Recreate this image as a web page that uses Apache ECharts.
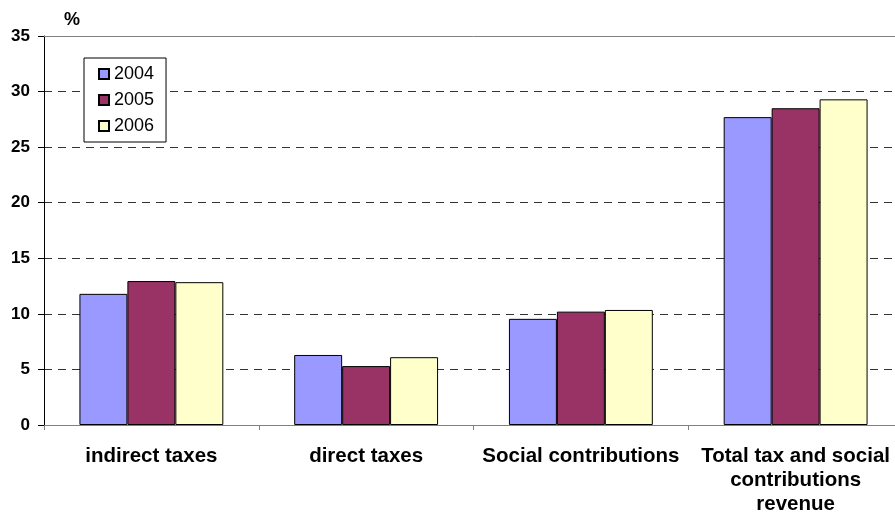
<!DOCTYPE html>
<html><head><meta charset="utf-8">
<script src="https://cdn.jsdelivr.net/npm/echarts@6/dist/echarts.min.js"></script>
<style>html,body{margin:0;padding:0;background:#fff;overflow:hidden;width:895px;height:516px}#c{width:903px;height:516px}</style>
</head><body><div id="c"></div>
<script>
var categories = ['indirect taxes', 'direct taxes', 'Social contributions', 'Total tax and social\ncontributions\nrevenue'];
var years = ['2004', '2005', '2006'];
var v2004 = [11.8, 6.3, 9.55, 27.7];
var v2005 = [12.95, 5.3, 10.2, 28.5];
var v2006 = [12.85, 6.1, 10.35, 29.3];
var yTicks = [0, 5, 10, 15, 20, 25, 30, 35];
var colors = ['#9999FF', '#993366', '#FFFFCC'];
var values = [v2004, v2005, v2006];

var chart = echarts.init(document.getElementById('c'));
var series = years.map(function (y, i) {
  var s = {
    name: y, type: 'bar', data: values[i],
    barGap: '0%', barCategoryGap: '33%',
    itemStyle: { color: colors[i], borderColor: '#000', borderWidth: 1 },
    emphasis: { disabled: true }, animation: false
  };
  if (i === 0) {
    s.markLine = { silent: true, symbol: 'none', label: { show: false },
      lineStyle: { color: '#808080', type: 'solid', width: 1 },
      data: [{ yAxis: yTicks[yTicks.length - 1] }] };
  }
  return s;
});
var FF = 'Liberation Sans, Arial, sans-serif';
chart.setOption({
  animation: false,
  textStyle: { fontFamily: FF },
  grid: { left: 44, right: 0, top: 36, bottom: 89, containLabel: false },
  legend: {
    orient: 'vertical', left: 84, top: 58, data: years,
    itemWidth: 10, itemHeight: 10, itemGap: 8,
    padding: [7, 12, 7, 14],
    borderColor: '#000', borderWidth: 1, backgroundColor: '#fff',
    textStyle: { fontSize: 18, color: '#000', fontFamily: FF },
    icon: 'rect'
  },
  xAxis: {
    type: 'category', data: categories,
    axisLine: { lineStyle: { color: '#808080', width: 1 } },
    axisTick: { show: true, length: 5, lineStyle: { color: '#808080' } },
    axisLabel: { fontSize: 20.5, fontWeight: 'bold', color: '#000', margin: 19, lineHeight: 24, interval: 0, fontFamily: FF }
  },
  yAxis: {
    type: 'value', min: 0, max: 35, interval: 5,
    name: '%', nameLocation: 'end', nameGap: 7,
    nameTextStyle: { fontSize: 18, fontWeight: 'bold', color: '#000', align: 'left', padding: [0, 0, 0, 20], fontFamily: FF },
    axisLine: { show: true, lineStyle: { color: '#000', width: 1 } },
    axisTick: { show: true, length: 6, lineStyle: { color: '#000' } },
    axisLabel: { fontSize: 17, fontWeight: 'bold', color: '#000', margin: 14, fontFamily: FF },
    splitLine: { show: true, lineStyle: { color: '#333', type: [8, 6], width: 1 } }
  },
  series: series
});
</script></body></html>
